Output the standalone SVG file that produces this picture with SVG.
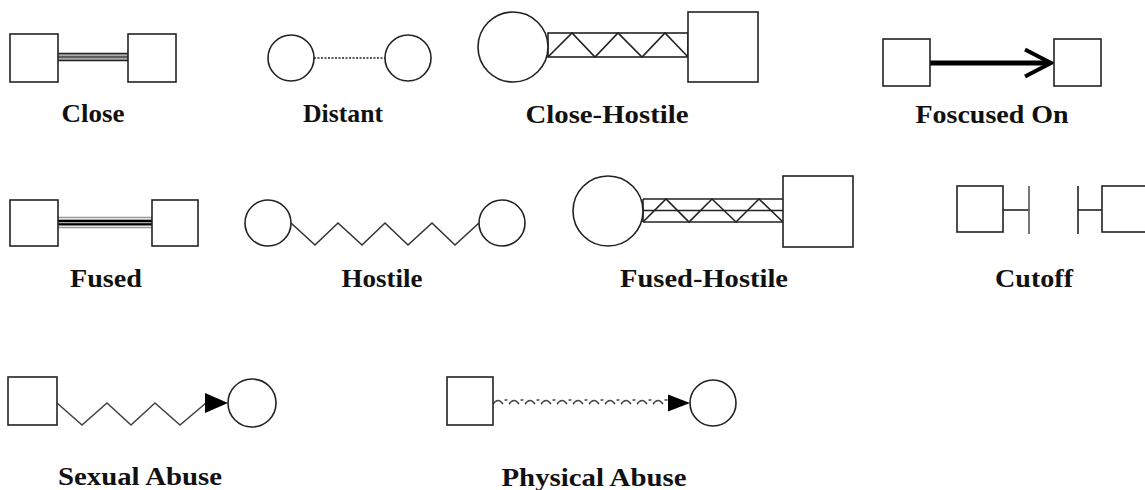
<svg xmlns="http://www.w3.org/2000/svg" width="1145" height="490" viewBox="0 0 1145 490">
<style>
.n{fill:#fff;stroke:#222;stroke-width:1.6}
.l{fill:none;stroke:#222;stroke-width:1.6}
.g{fill:none;stroke:#999;stroke-width:1.5}
.t{font-family:"Liberation Serif","Times New Roman",serif;font-weight:bold;font-size:25px;fill:#111;text-anchor:middle}
</style>
<rect width="1145" height="490" fill="#fff"/>
<g id="connectors">
<!-- Close -->
<rect x="58" y="53" width="70" height="8" fill="#aaa"/>
<line class="l" x1="58" y1="53.5" x2="128" y2="53.5" style="stroke-width:1.6"/>
<line class="l" x1="58" y1="57" x2="128" y2="57" style="stroke-width:1.3;stroke:#444"/>
<line class="l" x1="58" y1="60.5" x2="128" y2="60.5" style="stroke-width:1.6"/>
<!-- Distant -->
<line class="l" x1="314" y1="58" x2="385" y2="58" style="stroke-dasharray:2,1.5;stroke-width:1.6"/>
<!-- Close-Hostile -->
<rect class="l" x="548" y="33" width="140" height="24"/>
<polyline class="l" points="548,57 572,33 595,57 618,33 642,57 665,33 688,57"/>
<!-- Focused On -->
<line class="l" x1="930" y1="63" x2="1049" y2="63" style="stroke-width:5;stroke:#000"/>
<polyline class="l" points="1025,49.5 1051,63 1025,76.5" style="stroke-width:4;stroke:#000"/>
<!-- Fused -->
<line class="g" x1="58" y1="217.5" x2="152" y2="217.5"/>
<line class="g" x1="58" y1="227.5" x2="152" y2="227.5"/>
<rect x="58" y="219" width="94" height="7" fill="#aaa"/>
<line class="l" x1="58" y1="221" x2="152" y2="221" style="stroke-width:2;stroke:#000"/>
<line class="l" x1="58" y1="224.3" x2="152" y2="224.3" style="stroke-width:2;stroke:#000"/>
<!-- Hostile -->
<polyline class="l" points="291,223 315,245 338,223 362,245 385,223 408,245 432,223 455,245 479,223" style="stroke:#333"/>
<!-- Fused-Hostile -->
<line class="l" x1="643" y1="199" x2="783" y2="199"/>
<line class="l" x1="643" y1="210.5" x2="787" y2="210.5"/>
<line class="l" x1="643" y1="222" x2="783" y2="222"/>
<polyline class="l" points="643,222 666,199 689,222 712,199 736,222 759,199 783,222"/>
<line class="l" x1="643" y1="199" x2="643" y2="222"/>
<!-- Cutoff -->
<line class="l" x1="1003" y1="210" x2="1029" y2="210"/>
<line class="l" x1="1029" y1="186" x2="1029" y2="234" style="stroke:#555"/>
<line class="l" x1="1078" y1="186" x2="1078" y2="234"/>
<line class="l" x1="1078" y1="210" x2="1102" y2="210"/>
<!-- Sexual Abuse -->
<polyline class="l" points="57,403 82,425 107,403 131,425 155,403 180,425 206,403" style="stroke:#444"/>
<path d="M205,393 L228,403 L205,413 Z" fill="#000"/>
<!-- Physical Abuse -->
<path class="l" style="stroke-width:1.6;stroke:#444" d="M493,404 q5,-7 10,0 m1.5,-4 h3 m1.5,4 q5,-7 10,0 m1.5,-4 h3 m1.5,4 q5,-7 10,0 m1.5,-4 h3 m1.5,4 q5,-7 10,0 m1.5,-4 h3 m1.5,4 q5,-7 10,0 m1.5,-4 h3 m1.5,4 q5,-7 10,0 m1.5,-4 h3 m1.5,4 q5,-7 10,0 m1.5,-4 h3 m1.5,4 q5,-7 10,0 m1.5,-4 h3 m1.5,4 q5,-7 10,0 m1.5,-4 h3 m1.5,4 q5,-7 10,0 m1.5,-4 h3 m1.5,4 q5,-7 10,0 m1.5,-4 h3 m1.5,4 q2,-3 4,-3"/>
<path d="M668,394.5 L690,403 L668,411.5 Z" fill="#000"/>
</g>
<g id="close"><rect class="n" x="10" y="34" width="48" height="48"/><rect class="n" x="128" y="34" width="48" height="48"/><text class="t" x="93" y="122" textLength="63" lengthAdjust="spacingAndGlyphs">Close</text></g>
<g id="distant"><circle class="n" cx="291" cy="58" r="23"/><circle class="n" cx="408" cy="58" r="23"/><text class="t" x="343" y="122" textLength="80" lengthAdjust="spacingAndGlyphs">Distant</text></g>
<g id="close-hostile"><circle class="n" cx="513" cy="47" r="35"/><rect class="n" x="688" y="12" width="70" height="70"/><text class="t" x="607" y="123" textLength="163" lengthAdjust="spacingAndGlyphs">Close-Hostile</text></g>
<g id="focused-on"><rect class="n" x="883" y="39" width="47" height="47"/><rect class="n" x="1054" y="39" width="47" height="47"/><text class="t" x="992" y="123" textLength="153" lengthAdjust="spacingAndGlyphs">Foscused On</text></g>
<g id="fused"><rect class="n" x="10" y="200" width="48" height="46"/><rect class="n" x="152" y="200" width="46" height="46"/><text class="t" x="106" y="287" textLength="72" lengthAdjust="spacingAndGlyphs">Fused</text></g>
<g id="hostile"><circle class="n" cx="268" cy="223" r="23"/><circle class="n" cx="502" cy="223" r="23"/><text class="t" x="382" y="287" textLength="81" lengthAdjust="spacingAndGlyphs">Hostile</text></g>
<g id="fused-hostile"><circle class="n" cx="608" cy="211" r="35"/><rect class="n" x="783" y="176" width="70" height="71"/><text class="t" x="704" y="287" textLength="168" lengthAdjust="spacingAndGlyphs">Fused-Hostile</text></g>
<g id="cutoff"><rect class="n" x="957" y="186" width="46" height="46"/><rect class="n" x="1102" y="186" width="46" height="46"/><text class="t" x="1034" y="287" textLength="78" lengthAdjust="spacingAndGlyphs">Cutoff</text></g>
<g id="sexual-abuse"><rect class="n" x="8" y="377" width="49" height="48"/><circle class="n" cx="252" cy="403" r="24"/><text class="t" x="140" y="485" textLength="164" lengthAdjust="spacingAndGlyphs">Sexual Abuse</text></g>
<g id="physical-abuse"><rect class="n" x="447" y="377" width="46" height="48"/><circle class="n" cx="713" cy="403" r="23"/><text class="t" x="594" y="486" textLength="185" lengthAdjust="spacingAndGlyphs">Physical Abuse</text></g>
</svg>
